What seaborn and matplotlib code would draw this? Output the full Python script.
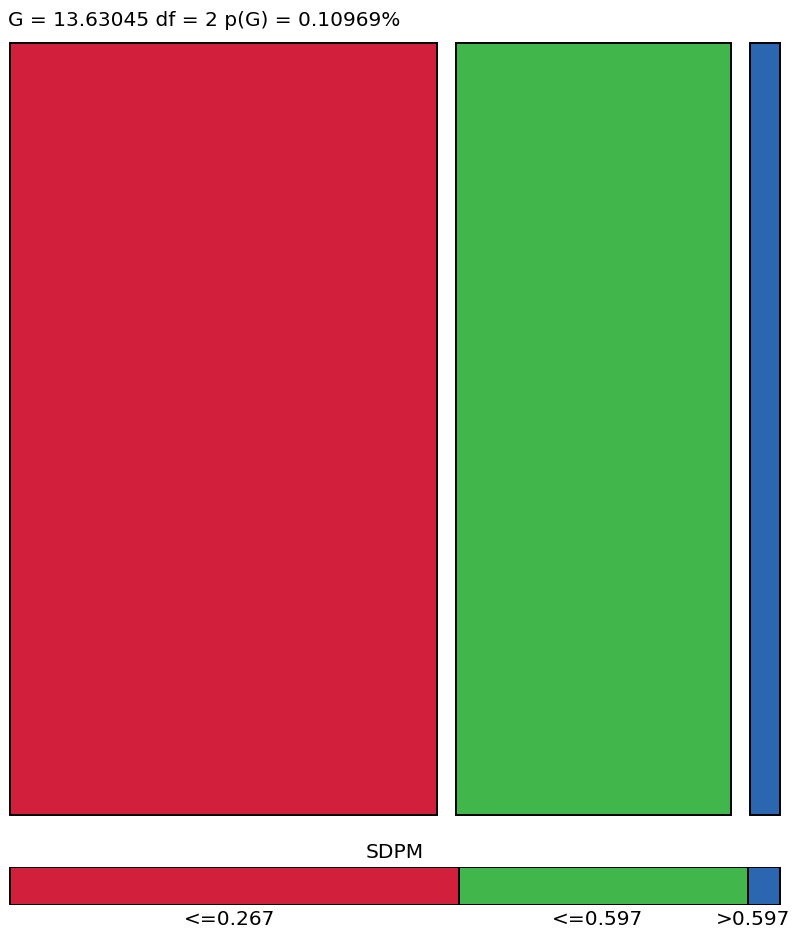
import matplotlib
matplotlib.use("Agg")
import matplotlib.pyplot as plt
import seaborn as sns
import numpy as np

# data
categories = ["<=0.267", "<=0.597", ">0.597"]
counts = [14, 9, 1]
colors = ["#D21F3C", "#41B64A", "#2B67B1"]
title = "G = 13.63045 df = 2 p(G) = 0.10969%"
xlabel = "SDPM"

sns.set_theme(style="white")
plt.rcParams['font.family'] = ['DejaVu Sans']
plt.rcParams['text.color'] = 'black'
plt.rcParams['xtick.color'] = 'black'

W, H = 792, 930
fig = plt.figure(figsize=(W / 100, H / 100), dpi=100)

def px_axes(x0, y0, x1, y1):
    return fig.add_axes([x0 / W, 1 - y1 / H, (x1 - x0) / W, (y1 - y0) / H])

props = np.array(counts, dtype=float) / sum(counts)

# top mosaic panel
ax = px_axes(8, 41, 782, 817)
sns.barplot(x=categories, y=[1] * len(categories), hue=categories, palette=colors,
            legend=False, ax=ax, edgecolor="black", linewidth=1.4, saturation=1)
gap = 19 / 774
widths = props * (1 - gap * (len(props) - 1))
left = 0.0
for patch, w in zip(ax.patches, widths):
    patch.set_x(left)
    patch.set_width(w)
    patch.set_y(0)
    patch.set_height(1)
    left += w + gap
ax.set_xlim(-0.002, 1.002)
ax.set_ylim(-0.002, 1.002)
ax.set_xticks([])
ax.set_yticks([])
ax.set_xlabel("")
ax.set_ylabel("")
for s in ax.spines.values():
    s.set_visible(False)

fig.text(8 / W, 1 - 20 / H, title, ha="left", va="center", fontsize=14.5)

# bottom strip
ax2 = px_axes(8, 867, 782, 905)
lefts = np.concatenate([[0], np.cumsum(props)[:-1]])
ax2.barh([0] * len(props), props, left=lefts, color=colors, edgecolor="black",
         linewidth=1.4, height=1)
ax2.set_xlim(-0.002, 1.002)
ax2.set_ylim(-0.5, 0.5)
ax2.set_xticks([])
ax2.set_yticks([])
for s in ax2.spines.values():
    s.set_visible(False)

centers = lefts + props / 2
for i, (c, lab) in enumerate(zip(centers, categories)):
    if i == len(categories) - 1:
        fig.text(790 / W, 1 - 919 / H, lab, ha="right", va="center", fontsize=14.5)
    else:
        ax2.text(c - (0.008 if i else 0.006), -0.5, lab, ha="center", va="top",
                 fontsize=14.5, transform=ax2.transData).set_y(-0.62)

fig.text(395 / W, 1 - 852 / H, xlabel, ha="center", va="center", fontsize=14.5)

fig.savefig("out.png", dpi=100)
